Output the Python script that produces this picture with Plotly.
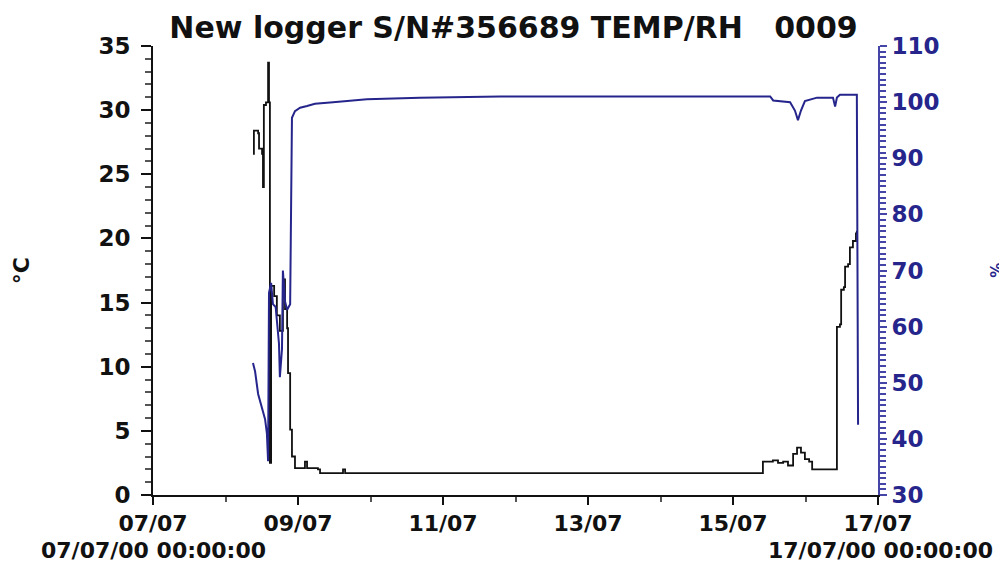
import pandas as pd
import plotly.graph_objects as go

# logger readings, hours since 07/07/00 00:00
temp_hours = [33.1, 33.4, 34.8, 35.1, 36.1, 36.4, 36.7, 37.4, 38.1, 38.4, 38.7,
              39.1, 40.1, 41.0, 42.0, 43.0, 43.7, 44.4, 44.7, 45.4, 46.0, 47.0,
              49.7, 50.3, 51.0, 54.6, 55.3, 62.2, 62.9, 63.6, 200.9, 201.9,
              205.2, 206.9, 208.6, 210.2, 211.9, 213.2, 214.5, 215.8, 217.2,
              218.2, 225.8, 226.4, 227.4, 227.8, 228.7, 229.1, 230.1, 230.7,
              231.7, 232.7, 233.0]
temp_c = [26.6, 28.4, 28.2, 27.0, 26.6, 24.0, 30.4, 30.6, 33.7, 30.6, 2.5,
          16.3, 15.5, 14.0, 12.8, 16.8, 14.5, 13.0, 9.5, 5.1, 3.0, 2.1,
          2.1, 2.6, 2.1, 2.0, 1.7, 1.7, 2.0, 1.7, 1.7, 2.6,
          2.7, 2.5, 2.6, 2.3, 3.2, 3.7, 3.3, 2.8, 2.6,
          2.0, 2.0, 13.1, 13.3, 16.0, 16.2, 17.8, 18.0, 19.3,
          19.8, 20.4, 20.6]

rh_hours = [33.1, 33.8, 34.8, 36.1, 37.1, 37.7, 38.1, 38.4, 39.1, 39.7, 40.6,
            41.7, 42.0, 42.7, 43.0, 43.7, 44.4, 45.4, 45.7, 46.0, 47.0, 48.7,
            51.0, 53.6, 59.6, 70.8, 88.4, 114.9, 204.3, 205.3, 210.9, 212.5,
            213.5, 214.5, 215.8, 219.8, 225.1, 225.8, 226.4, 227.4, 233.0, 233.4]
rh_pct = [53.5, 52.0, 48.0, 45.5, 43.5, 41.0, 36.0, 66.0, 67.8, 64.0, 63.5,
          57.0, 51.0, 56.0, 70.0, 64.5, 63.0, 64.0, 91.0, 97.2, 98.4, 99.0,
          99.3, 99.7, 100.0, 100.5, 100.8, 101.0, 101.0, 100.3, 100.0, 98.5,
          96.8, 98.5, 100.2, 100.8, 100.8, 99.2, 100.8, 101.3, 101.3, 42.5]

start = pd.Timestamp("2000-07-07 00:00:00")
end = pd.Timestamp("2000-07-17 00:00:00")
temp_t = start + pd.to_timedelta(temp_hours, unit="h")
rh_t = start + pd.to_timedelta(rh_hours, unit="h")

NAVY = "#25258c"
AXIS_BLUE = "#4545a8"
FONT = "DejaVu Sans, sans-serif"
BOLD = dict(family=FONT, size=22, weight="bold", color="#111111")

fig = go.Figure()
fig.add_trace(go.Scatter(x=temp_t, y=temp_c, mode="lines", line_shape="hv",
                         line=dict(color="#111111", width=1.8), name="Temp"))
fig.add_trace(go.Scatter(x=rh_t, y=rh_pct, mode="lines", yaxis="y2",
                         line=dict(color=NAVY, width=2), name="RH"))

# the page is offset by the 8px body margin, so margins are shifted by that
fig.update_layout(
    width=1007, height=577,
    margin=dict(l=145, r=137, t=38, b=90),
    paper_bgcolor="white", plot_bgcolor="white",
    showlegend=False,
    font=dict(family=FONT, size=20, color="#111111"),
    title=dict(text="New logger S/N#356689 TEMP/RH   0009", x=0.502, xanchor="center",
               y=0.967, yanchor="middle",
               font=dict(family=FONT, size=30, weight="bold", color="#111111")),
    xaxis=dict(type="date", range=[start, end], dtick=2 * 86400000, tick0=start,
               tickformat="%d/%m", showgrid=False, zeroline=False,
               showline=True, linecolor="#111111", linewidth=2,
               ticks="outside", ticklen=8, tickwidth=2, tickcolor="#111111",
               minor=dict(dtick=86400000, ticks="outside", ticklen=5, tickcolor="#555555"),
               tickfont=BOLD),
    yaxis=dict(range=[0, 35], dtick=5, showgrid=False, zeroline=False,
               showline=True, linecolor="#111111", linewidth=2,
               ticks="outside", ticklen=10, tickwidth=2, tickcolor="#111111",
               minor=dict(dtick=1, ticks="outside", ticklen=6, tickcolor="#555555"),
               ticklabelstandoff=6, tickfont=dict(BOLD, size=23)),
    yaxis2=dict(range=[30, 110], dtick=10, overlaying="y", side="right",
                showgrid=False, zeroline=False,
                showline=True, linecolor=AXIS_BLUE, linewidth=2,
                ticks="outside", ticklen=7, tickwidth=2, tickcolor=AXIS_BLUE,
                minor=dict(dtick=1, ticks="outside", ticklen=6, tickcolor=AXIS_BLUE),
                tickfont=dict(family=FONT, size=23, weight="bold", color=NAVY)),
)

fig.add_annotation(text="°C", xref="paper", yref="paper", x=-0.181, y=0.5,
                   xanchor="center", textangle=-90, showarrow=False, font=BOLD)
fig.add_annotation(text="%", xref="paper", yref="paper", x=1.163, y=0.5,
                   xanchor="center", textangle=-90, showarrow=False,
                   font=dict(family=FONT, size=15, weight="bold", color=NAVY))
fig.add_annotation(text="07/07/00 00:00:00", xref="paper", yref="paper", x=0.0, y=-0.123,
                   xanchor="center", yanchor="middle", showarrow=False, font=BOLD)
fig.add_annotation(text="17/07/00 00:00:00", xref="paper", yref="paper", x=1.004, y=-0.123,
                   xanchor="center", yanchor="middle", showarrow=False, font=BOLD)

fig.write_html("out.html")
